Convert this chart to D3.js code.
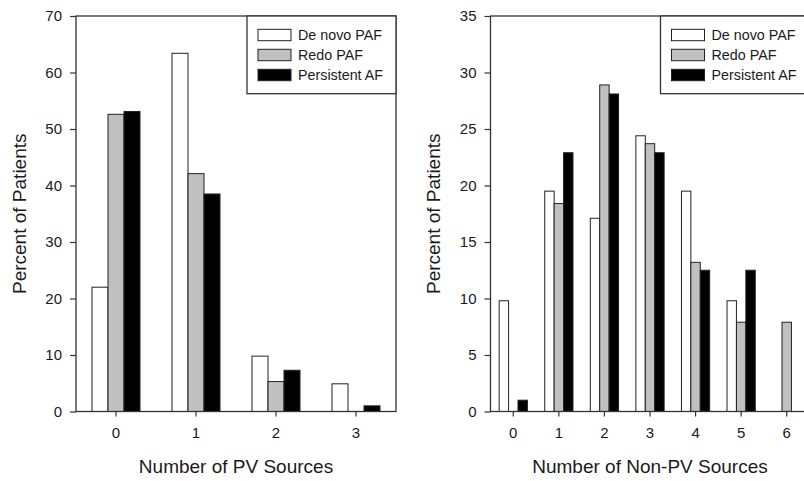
<!DOCTYPE html>
<html>
<head>
<meta charset="utf-8">
<script src="https://cdn.jsdelivr.net/npm/d3@7"></script>
<style>
  body { margin: 0; background: #fff; }
  svg { display: block; font-family: "Liberation Sans", Arial, sans-serif; }
  .axis text { fill: #1a1a1a; font-size: 15px; }
  .axis line { stroke: #333; stroke-width: 1.2; }
  .axis path { display: none; }
</style>
</head>
<body>
<div id="chart"></div>
<script>
// series shared by both panels
const seriesNames = ['De novo PAF', 'Redo PAF', 'Persistent AF'];
const seriesColors = ['#ffffff', '#c0c0c0', '#000000'];

// left panel: number of PV sources
const pvSources = ['0', '1', '2', '3'];
const pvDeNovo = [22.0, 63.4, 9.8, 4.9];
const pvRedo = [52.6, 42.1, 5.3, 0];
const pvPersistent = [53.1, 38.5, 7.3, 1.0];
const pvTicks = [0, 10, 20, 30, 40, 50, 60, 70];

// right panel: number of non-PV sources
const nonPvSources = ['0', '1', '2', '3', '4', '5', '6'];
const nonPvDeNovo = [9.8, 19.5, 17.1, 24.4, 19.5, 9.8, 0];
const nonPvRedo = [0, 18.4, 28.9, 23.7, 13.2, 7.9, 7.9];
const nonPvPersistent = [1.0, 22.9, 28.1, 22.9, 12.5, 12.5, 0];
const nonPvTicks = [0, 5, 10, 15, 20, 25, 30, 35];

const width = 804;
const height = 481;

const svg = d3.select('#chart')
  .append('svg')
  .attr('width', width)
  .attr('height', height);

const panels = [
  {
    cats: pvSources,
    series: [pvDeNovo, pvRedo, pvPersistent],
    ticks: pvTicks,
    xLabel: 'Number of PV Sources',
    left: 76, right: 396, group: 0.6, yLabelX: 26,
  },
  {
    cats: nonPvSources,
    series: [nonPvDeNovo, nonPvRedo, nonPvPersistent],
    ticks: nonPvTicks,
    xLabel: 'Number of Non-PV Sources',
    left: 490.5, right: 809.5, group: 0.62, yLabelX: 440,
  },
];

const plotTop = 16;
const plotBottom = 411.5;

panels.forEach((p) => {
  const g = svg.append('g');

  const x0 = d3.scaleBand()
    .domain(p.cats)
    .range([p.left, p.right]);

  const bw = x0.bandwidth();
  const x1 = d3.scaleBand()
    .domain(seriesNames)
    .range([bw * (1 - p.group) / 2, bw * (1 + p.group) / 2]);

  const y = d3.scaleLinear()
    .domain([0, d3.max(p.ticks)])
    .range([plotBottom, plotTop]);

  // bars
  const rows = [];
  p.series.forEach((vals, si) => {
    vals.forEach((v, ci) => {
      if (v > 0) rows.push({ cat: p.cats[ci], name: seriesNames[si], color: seriesColors[si], value: v });
    });
  });

  g.selectAll('.bar')
    .data(rows)
    .enter().append('rect')
    .attr('class', 'bar')
    .attr('x', d => x0(d.cat) + x1(d.name))
    .attr('y', d => y(d.value))
    .attr('width', x1.bandwidth())
    .attr('height', d => y(0) - y(d.value))
    .attr('fill', d => d.color)
    .attr('stroke', '#222')
    .attr('stroke-width', 1);

  // frame
  g.append('rect')
    .attr('x', p.left)
    .attr('y', plotTop)
    .attr('width', p.right - p.left)
    .attr('height', plotBottom - plotTop)
    .attr('fill', 'none')
    .attr('stroke', '#333')
    .attr('stroke-width', 1.3);

  g.append('g')
    .attr('class', 'axis')
    .attr('transform', `translate(${p.left},0)`)
    .call(d3.axisLeft(y).tickValues(p.ticks).tickSize(6).tickPadding(8).tickSizeOuter(0));

  g.append('g')
    .attr('class', 'axis')
    .attr('transform', `translate(0,${plotBottom})`)
    .call(d3.axisBottom(x0).tickSize(5).tickPadding(11).tickSizeOuter(0));

  g.append('text')
    .attr('x', (p.left + p.right) / 2)
    .attr('y', 473)
    .attr('text-anchor', 'middle')
    .attr('fill', '#1a1a1a')
    .style('font-size', '19px')
    .text(p.xLabel);

  g.append('text')
    .attr('transform', `translate(${p.yLabelX},${(plotTop + plotBottom) / 2}) rotate(-90)`)
    .attr('text-anchor', 'middle')
    .attr('fill', '#1a1a1a')
    .style('font-size', '19px')
    .text('Percent of Patients');

  // legend
  const lw = 149;
  const legend = g.append('g')
    .attr('transform', `translate(${p.right - lw},${plotTop})`);

  legend.append('rect')
    .attr('width', lw)
    .attr('height', 77.7)
    .attr('fill', '#fff')
    .attr('stroke', '#333')
    .attr('stroke-width', 1.3);

  const items = legend.selectAll('.item')
    .data(seriesNames)
    .enter().append('g')
    .attr('transform', (d, i) => `translate(11,${13.3 + i * 20})`);

  items.append('rect')
    .attr('width', 33)
    .attr('height', 11.4)
    .attr('fill', (d, i) => seriesColors[i])
    .attr('stroke', '#222')
    .attr('stroke-width', 1);

  items.append('text')
    .attr('x', 40)
    .attr('y', 11)
    .attr('fill', '#1a1a1a')
    .style('font-size', '14.3px')
    .text(d => d);
});
</script>
</body>
</html>
